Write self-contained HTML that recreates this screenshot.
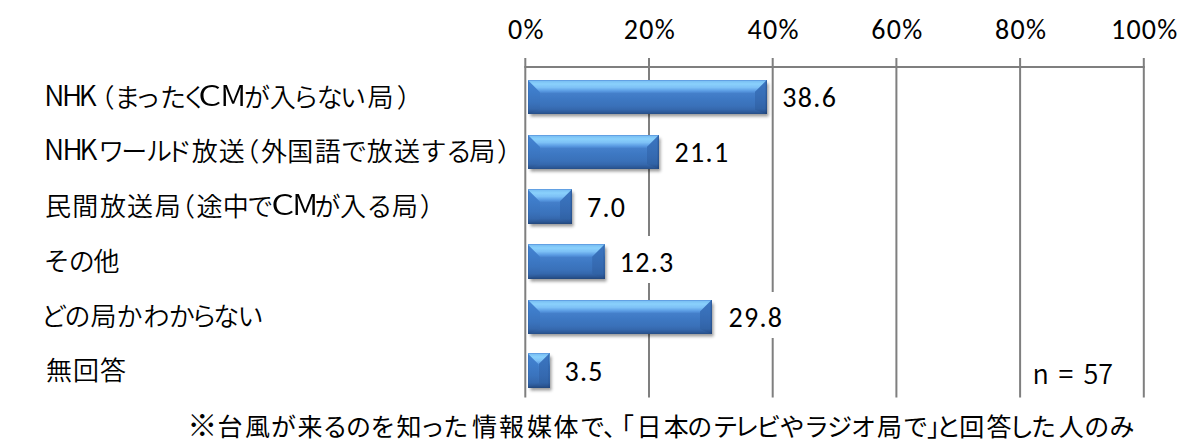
<!DOCTYPE html>
<html lang="ja">
<head>
<meta charset="utf-8">
<title>chart</title>
<style>
html,body{margin:0;padding:0;background:#fff;}
body{width:1200px;height:448px;position:relative;overflow:hidden;}
.ax{position:absolute;top:16px;width:100px;margin-left:-50px;text-align:center;font-family:Carlito,"Liberation Sans",sans-serif;font-size:28px;line-height:1;letter-spacing:1.3px;color:#000;white-space:nowrap;}
.cat{position:absolute;left:0;width:520px;height:26px;font-family:"Noto Sans CJK JP",sans-serif;font-weight:350;font-size:26px;line-height:1;color:#000;white-space:nowrap;}
.cat span{position:absolute;top:0;}
.cat span.lat{font-size:28px;top:-3px;}
.val{position:absolute;font-family:Carlito,"Liberation Sans",sans-serif;font-size:28px;line-height:1;letter-spacing:1.3px;color:#000;white-space:nowrap;}
.valbg{position:absolute;background:#fff;}
.bar{position:absolute;height:34.6px;
  background:linear-gradient(to bottom,#5590da 0px,#7cc2f5 1.5px,#8ad1fc 4px,#7dc1f6 7.5px,#5a9be3 11px,#447fca 13.5px,#3d78c3 19px,#3a71b9 26px,#3568ad 29.5px,#2c5896 32.5px,#244a80 34.6px);
  box-shadow:1.5px 2.5px 3px rgba(0,0,0,0.4);filter:blur(0.3px);}
.bar .f{position:absolute;top:0;height:100%;}
.bar .l{left:0;background:linear-gradient(to right,rgba(30,60,110,0.2) 0,rgba(30,60,110,0) 1.5px),linear-gradient(to bottom,#4585d4 0,#3e7cc9 35%,#3a73bd 65%,#3568ad 85%,#2c5896 94%,#244a80 100%);}
.bar .r{right:0;background:linear-gradient(to left,rgba(20,45,90,0.4) 0,rgba(20,45,90,0) 2px),linear-gradient(to bottom,#3c76c2 0,#3870b9 35%,#3569b0 65%,#3163a6 85%,#2a5492 94%,#22467c 100%);}
.fn{position:absolute;top:412.7px;font-family:"Noto Sans CJK JP",sans-serif;font-size:25px;line-height:1;color:#000;}
.n57w{position:absolute;left:0;top:0;}
.note{position:absolute;left:0;top:0;}
.n57{position:absolute;top:359px;font-family:"Noto Sans CJK JP",sans-serif;font-weight:350;font-size:27px;line-height:1;color:#000;}
</style>
</head>
<body>
<svg width="1200" height="448" style="position:absolute;left:0;top:0"><g fill="#7f7f7f">
<rect x="524.3" y="58" width="2" height="339.5"/>
<rect x="648.0" y="58" width="2" height="339.5"/>
<rect x="771.7" y="58" width="2" height="339.5"/>
<rect x="895.4" y="58" width="2" height="339.5"/>
<rect x="1019.1" y="58" width="2" height="339.5"/>
<rect x="1142.8" y="58" width="2" height="339.5"/>
<rect x="524.3" y="66" width="620.5" height="2"/>
</g></svg>
<div class="ax" style="left:526.3px">0%</div>
<div class="ax" style="left:650.0px">20%</div>
<div class="ax" style="left:773.7px">40%</div>
<div class="ax" style="left:897.4px">60%</div>
<div class="ax" style="left:1021.1px">80%</div>
<div class="ax" style="left:1144.8px">100%</div>
<div class="cat" style="top:82.75px"><span class="lat" style="left:44.2px">N</span><span class="lat" style="left:62.1px">H</span><span class="lat" style="left:78.7px">K</span><span style="left:88.5px">（</span><span style="left:114.2px">ま</span><span style="left:134.8px">っ</span><span style="left:159.9px">た</span><span style="left:181.2px">く</span><span class="lat" style="left:201.3px;transform:scaleX(1.3)">C</span><span class="lat" style="left:221.8px;transform:scaleX(1.15)">M</span><span style="left:243.9px">が</span><span style="left:269.7px">入</span><span style="left:292.7px">ら</span><span style="left:316.8px">な</span><span style="left:340.1px">い</span><span style="left:367.4px">局</span><span style="left:396.8px">）</span></div>
<div class="cat" style="top:137.45px"><span class="lat" style="left:44.1px">N</span><span class="lat" style="left:62.4px">H</span><span class="lat" style="left:79.5px">K</span><span style="left:98.3px">ワ</span><span style="left:121.3px">ー</span><span style="left:146.1px">ル</span><span style="left:165.9px">ド</span><span style="left:191.7px">放</span><span style="left:218.7px">送</span><span style="left:233.2px">（</span><span style="left:261.1px">外</span><span style="left:287.3px">国</span><span style="left:314.7px">語</span><span style="left:340.9px">で</span><span style="left:366.8px">放</span><span style="left:394.0px">送</span><span style="left:420.4px">す</span><span style="left:445.9px">る</span><span style="left:469.2px">局</span><span style="left:497.0px">）</span></div>
<div class="cat" style="top:192.15px"><span style="left:45.0px">民</span><span style="left:72.2px">間</span><span style="left:100.0px">放</span><span style="left:127.0px">送</span><span style="left:154.7px">局</span><span style="left:169.0px">（</span><span style="left:196.4px">途</span><span style="left:222.8px">中</span><span style="left:247.3px">で</span><span class="lat" style="left:274.1px;transform:scaleX(1.3)">C</span><span class="lat" style="left:293.9px;transform:scaleX(1.15)">M</span><span style="left:314.6px">が</span><span style="left:340.1px">入</span><span style="left:366.6px">る</span><span style="left:392.1px">局</span><span style="left:419.8px">）</span></div>
<div class="cat" style="top:246.85px"><span style="left:43.8px">そ</span><span style="left:68.8px">の</span><span style="left:93.4px">他</span></div>
<div class="cat" style="top:301.55px"><span style="left:41.0px">ど</span><span style="left:64.5px">の</span><span style="left:90.5px">局</span><span style="left:116.5px">か</span><span style="left:143.6px">わ</span><span style="left:168.8px">か</span><span style="left:190.9px">ら</span><span style="left:213.2px">な</span><span style="left:237.6px">い</span></div>
<div class="cat" style="top:356.25px"><span style="left:45.9px">無</span><span style="left:72.9px">回</span><span style="left:99.9px">答</span></div>
<div class="bar" style="left:527.5px;top:79.8px;width:239.5px"><div class="f l" style="width:12.5px;clip-path:polygon(0 0,12.5px 12.5px,12.5px 29.6px,0 34.6px)"></div><div class="f r" style="width:12.5px;clip-path:polygon(12.5px 0,0 12.5px,0 29.6px,12.5px 34.6px)"></div></div>
<div class="bar" style="left:527.5px;top:134.5px;width:131.8px"><div class="f l" style="width:12.5px;clip-path:polygon(0 0,12.5px 12.5px,12.5px 29.6px,0 34.6px)"></div><div class="f r" style="width:12.5px;clip-path:polygon(12.5px 0,0 12.5px,0 29.6px,12.5px 34.6px)"></div></div>
<div class="bar" style="left:527.5px;top:189.3px;width:44.5px"><div class="f l" style="width:12.5px;clip-path:polygon(0 0,12.5px 12.5px,12.5px 29.6px,0 34.6px)"></div><div class="f r" style="width:12.5px;clip-path:polygon(12.5px 0,0 12.5px,0 29.6px,12.5px 34.6px)"></div></div>
<div class="bar" style="left:527.5px;top:244.2px;width:77.2px"><div class="f l" style="width:12.5px;clip-path:polygon(0 0,12.5px 12.5px,12.5px 29.6px,0 34.6px)"></div><div class="f r" style="width:12.5px;clip-path:polygon(12.5px 0,0 12.5px,0 29.6px,12.5px 34.6px)"></div></div>
<div class="bar" style="left:527.5px;top:299.5px;width:184.5px"><div class="f l" style="width:12.5px;clip-path:polygon(0 0,12.5px 12.5px,12.5px 29.6px,0 34.6px)"></div><div class="f r" style="width:12.5px;clip-path:polygon(12.5px 0,0 12.5px,0 29.6px,12.5px 34.6px)"></div></div>
<div class="bar" style="left:527.5px;top:353.3px;width:22.0px"><div class="f l" style="width:11.0px;clip-path:polygon(0 0,11.0px 11.0px,11.0px 29.6px,0 34.6px)"></div><div class="f r" style="width:11.0px;clip-path:polygon(11.0px 0,0 11.0px,0 29.6px,11.0px 34.6px)"></div></div>
<div class="valbg" style="left:778.0px;top:71.8px;width:60px;height:46.5px"></div>
<div class="val" style="left:782.3px;top:84.4px">38.6</div>
<div class="valbg" style="left:670.3px;top:126.5px;width:60px;height:46.5px"></div>
<div class="val" style="left:674.6px;top:139.1px">21.1</div>
<div class="valbg" style="left:583.0px;top:181.3px;width:47px;height:46.5px"></div>
<div class="val" style="left:587.0px;top:193.9px">7.0</div>
<div class="valbg" style="left:615.7px;top:236.2px;width:60px;height:46.5px"></div>
<div class="val" style="left:619.7px;top:248.8px">12.3</div>
<div class="valbg" style="left:723.0px;top:291.5px;width:60px;height:46.5px"></div>
<div class="val" style="left:728.5px;top:304.1px">29.8</div>
<div class="valbg" style="left:560.5px;top:345.3px;width:47px;height:46.5px"></div>
<div class="val" style="left:564.5px;top:357.9px">3.5</div>
<div class="n57w"><span class="n57" style="left:1032.6px">n</span> <span class="n57" style="left:1058.5px">=</span> <span class="n57" style="left:1083.5px">57</span></div>
<div class="note"><span class="fn" style="left:187.3px;top:407.5px;font-size:30px">※</span><span class="fn" style="left:217.4px">台</span><span class="fn" style="left:245.0px">風</span><span class="fn" style="left:271.1px">が</span><span class="fn" style="left:297.6px">来</span><span class="fn" style="left:322.6px">る</span><span class="fn" style="left:346.0px">の</span><span class="fn" style="left:370.6px">を</span><span class="fn" style="left:396.6px">知</span><span class="fn" style="left:419.7px">っ</span><span class="fn" style="left:443.3px">た</span><span class="fn" style="left:472.1px">情</span><span class="fn" style="left:498.9px">報</span><span class="fn" style="left:526.9px">媒</span><span class="fn" style="left:553.5px">体</span><span class="fn" style="left:580.0px">で</span><span class="fn" style="left:603.1px">、</span><span class="fn" style="left:609.0px">「</span><span class="fn" style="left:636.5px">日</span><span class="fn" style="left:663.8px">本</span><span class="fn" style="left:687.2px">の</span><span class="fn" style="left:713.0px">テ</span><span class="fn" style="left:734.0px">レ</span><span class="fn" style="left:756.0px">ビ</span><span class="fn" style="left:779.4px">や</span><span class="fn" style="left:804.0px">ラ</span><span class="fn" style="left:827.3px">ジ</span><span class="fn" style="left:851.0px">オ</span><span class="fn" style="left:877.0px">局</span><span class="fn" style="left:903.0px">で</span><span class="fn" style="left:927.1px">」</span><span class="fn" style="left:936.1px">と</span><span class="fn" style="left:959.3px">回</span><span class="fn" style="left:986.6px">答</span><span class="fn" style="left:1008.7px">し</span><span class="fn" style="left:1031.0px">た</span><span class="fn" style="left:1058.7px">人</span><span class="fn" style="left:1084.2px">の</span><span class="fn" style="left:1109.5px">み</span></div>
<script>
(function(){try{
var c=document.createElement('canvas').getContext('2d');
function w(f){c.font='28px '+f;return c.measureText('0123456789%').width;}
if(Math.abs(w('Carlito,monospace')-w('monospace'))<0.01){
var st=document.createElement('style');
st.textContent='.ax,.val{font-family:"Liberation Sans",sans-serif;font-size:26px;letter-spacing:0.4px;}';
document.head.appendChild(st);}
}catch(e){}})();
</script>
</body>
</html>
